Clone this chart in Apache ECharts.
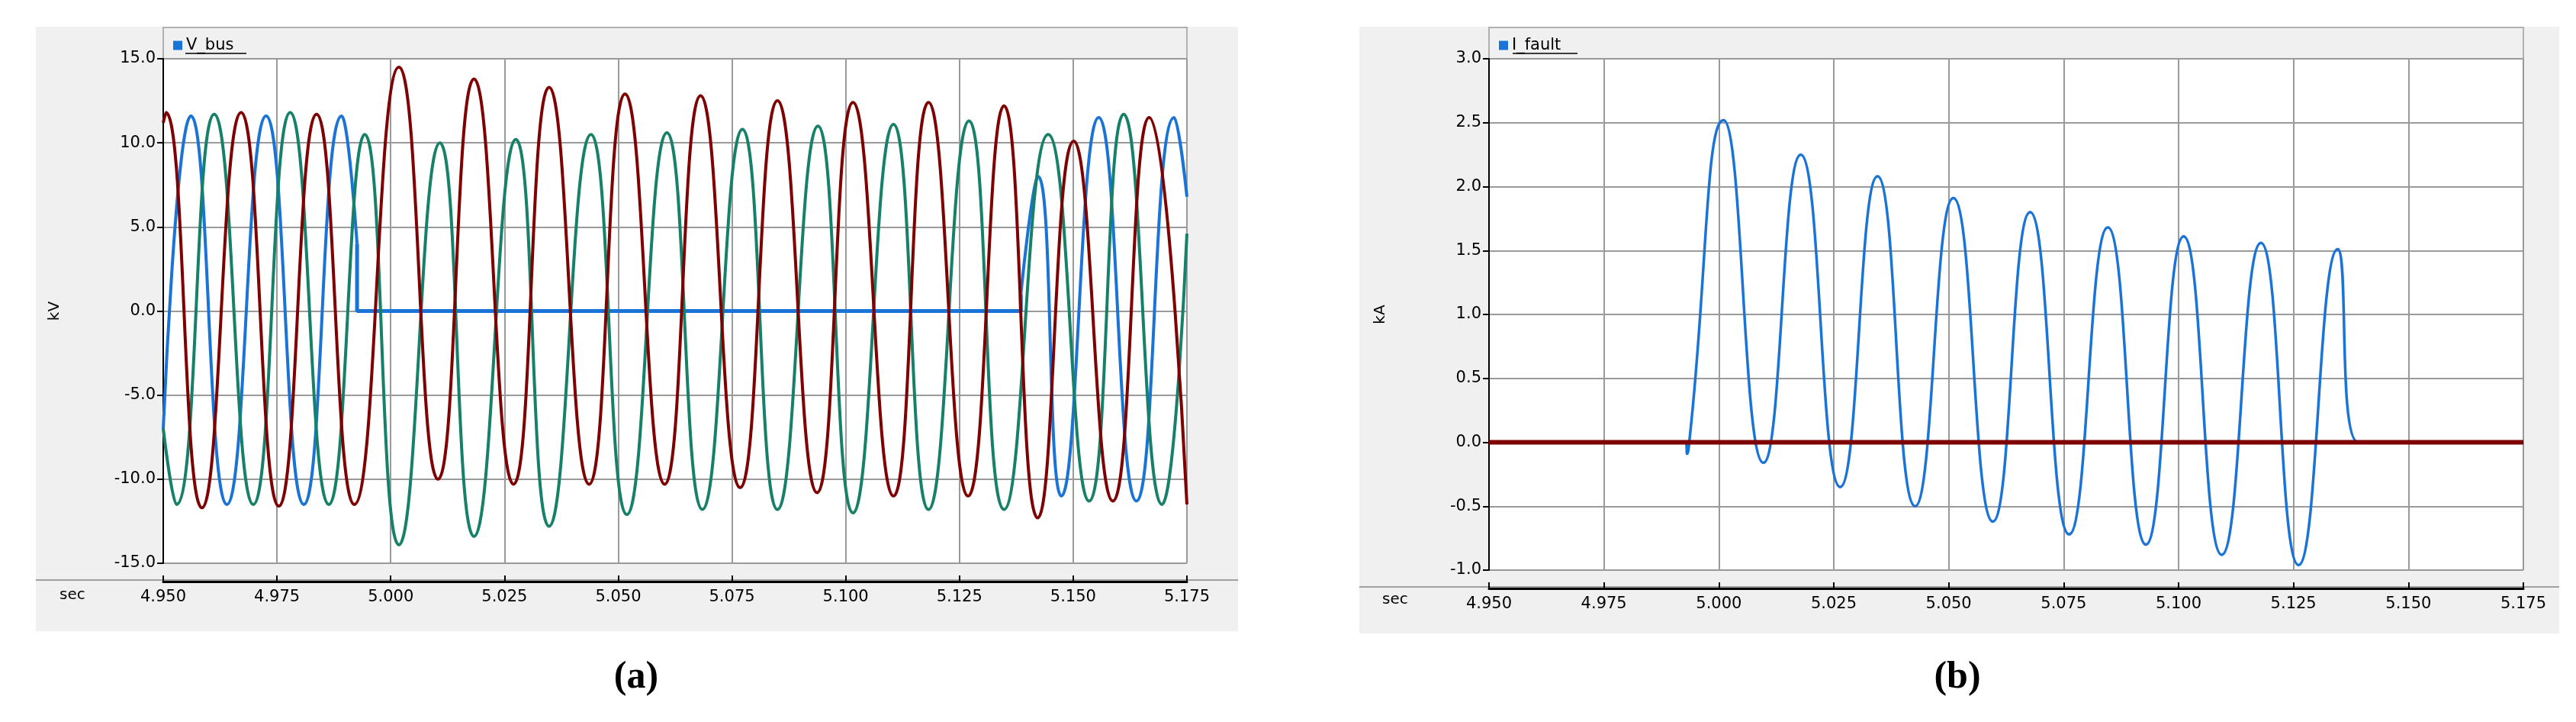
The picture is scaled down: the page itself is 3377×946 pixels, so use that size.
<!DOCTYPE html>
<html>
<head>
<meta charset="utf-8">
<script src="https://cdn.jsdelivr.net/npm/echarts@6/dist/echarts.min.js"></script>
<style>
  html, body { margin: 0; padding: 0; background: #fff; }
  #main { width: 3377px; height: 946px; }
</style>
</head>
<body>
<div id="main"></div>
<script>
// time ticks (sec)
const xTicks = [4.950, 4.975, 5.000, 5.025, 5.050, 5.075, 5.100, 5.125, 5.150, 5.175];

// (a) V_bus, three phases, [t, kV] read at peaks / troughs
const vRed = [
  [4.9500, 11.2], [4.9506, 11.8], [4.9585, -11.7], [4.9671, 11.8], [4.9754, -11.6],
  [4.9837, 11.7], [4.9920, -11.5], [5.0018, 14.5], [5.0104, -10.0], [5.0183, 13.8],
  [5.0270, -10.3], [5.0348, 13.3], [5.0436, -10.3], [5.0515, 12.9], [5.0602, -10.3],
  [5.0681, 12.8], [5.0768, -10.5], [5.0850, 12.5], [5.0937, -10.8], [5.1016, 12.4],
  [5.1105, -11.0], [5.1182, 12.4], [5.1269, -11.0], [5.1348, 12.2], [5.1422, -12.3],
  [5.1501, 10.1], [5.1587, -11.3], [5.1667, 11.5], [5.1750, -11.5]
];
const vGreen = [
  [4.9500, -7.0], [4.9529, -11.5], [4.9612, 11.7], [4.9698, -11.5], [4.9779, 11.8],
  [4.9864, -11.5], [4.9943, 10.5], [5.0018, -13.9], [5.0108, 10.0], [5.0183, -13.4],
  [5.0275, 10.2], [5.0348, -12.8], [5.0440, 10.5], [5.0519, -12.1], [5.0607, 10.6],
  [5.0685, -11.8], [5.0773, 10.8], [5.0850, -11.8], [5.0939, 11.0], [5.1016, -12.0],
  [5.1105, 11.1], [5.1182, -11.8], [5.1271, 11.3], [5.1348, -11.8], [5.1445, 10.5],
  [5.1535, -11.3], [5.1611, 11.7], [5.1695, -11.5], [5.1750, 4.6]
];
const vBluePre = [
  [4.9500, -7.0], [4.9561, 11.6], [4.9640, -11.5], [4.9726, 11.6], [4.9809, -11.5],
  [4.9892, 11.6], [4.9926, 4.0]
];
const vBlueFault = [[4.9926, 4.0], [4.9926, 0], [5.1385, 0], [5.1385, 1.0]];
const vBluePost = [
  [5.1385, 1.0], [5.1423, 8.0], [5.1474, -11.0], [5.1556, 11.5], [5.1639, -11.3],
  [5.1722, 11.5], [5.1750, 6.8]
];

// (b) I_fault, [t, kA]
const iBlue = [
  [4.9500, 0], [4.9928, 0], [4.9931, -0.09], [4.9937, 0.05], [5.0010, 2.52], [5.0097, -0.16],
  [5.0178, 2.25], [5.0264, -0.35], [5.0345, 2.08], [5.0427, -0.50], [5.0510, 1.91],
  [5.0596, -0.62], [5.0677, 1.80], [5.0762, -0.72], [5.0846, 1.68], [5.0929, -0.80],
  [5.1011, 1.61], [5.1094, -0.88], [5.1179, 1.56], [5.1261, -0.96], [5.1346, 1.51],
  [5.1391, 0], [5.1750, 0]
];
const iFlat = [[4.9500, 0], [5.1750, 0]];

const BLUE = '#1a73d6', GREEN = '#178068', RED = '#7f0000';
const FONT = 'DejaVu Sans';

const chart = echarts.init(document.getElementById('main'));

function xAxisCfg(gi) {
  return {
    type: 'value', gridIndex: gi, min: 4.95, max: 5.175, interval: 0.025,
    offset: 24,
    axisLine: { show: true, onZero: false, lineStyle: { color: '#000', width: 3 } },
    axisTick: { show: true, inside: true, length: 8, lineStyle: { color: '#000', width: 2 } },
    axisLabel: { color: '#000', fontFamily: FONT, fontSize: 21, margin: 10,
      formatter: v => v.toFixed(3) },
    splitLine: { show: true, lineStyle: { color: '#9a9a9a', width: 2 } }
  };
}
function yAxisCfg(gi, min, max, step, name) {
  return {
    type: 'value', gridIndex: gi, min: min, max: max, interval: step,
    name: name, nameLocation: 'middle', nameGap: 132, nameRotate: 90,
    nameTextStyle: { color: '#000', fontFamily: FONT, fontSize: 20 },
    axisLine: { show: true, lineStyle: { color: '#000', width: 2 } },
    axisTick: { show: true, length: 8, lineStyle: { color: '#000', width: 2 } },
    axisLabel: { color: '#000', fontFamily: FONT, fontSize: 21, margin: 10,
      formatter: v => v.toFixed(1) },
    splitLine: { show: true, lineStyle: { color: '#9a9a9a', width: 2 } }
  };
}
function line(name, data, color, width, xi, smooth) {
  return {
    name: name, type: 'line', xAxisIndex: xi, yAxisIndex: xi, data: data,
    showSymbol: false, smooth: smooth === undefined ? 0.5 : smooth,
    lineStyle: { color: color, width: width }, itemStyle: { color: color },
    animation: false
  };
}

chart.setOption({
  backgroundColor: '#fff',
  graphic: [
    // panel backgrounds
    { type: 'rect', z: -10, shape: { x: 47, y: 35, width: 1576, height: 792 }, style: { fill: '#f0f0f0' } },
    { type: 'rect', z: -10, shape: { x: 1782, y: 35, width: 1573, height: 795 }, style: { fill: '#f0f0f0' } },
    // legend strips
    { type: 'rect', z: -9, shape: { x: 214, y: 36, width: 1342, height: 41 }, style: { fill: '#f0f0f0', stroke: '#b0b0b0', lineWidth: 2 } },
    { type: 'rect', z: -9, shape: { x: 1952, y: 36, width: 1356, height: 41 }, style: { fill: '#f0f0f0', stroke: '#b0b0b0', lineWidth: 2 } },
    // separator lines above axis band
    { type: 'line', shape: { x1: 47, y1: 760, x2: 1623, y2: 760 }, style: { stroke: '#a0a0a0', lineWidth: 2 } },
    { type: 'line', shape: { x1: 1782, y1: 769, x2: 3355, y2: 769 }, style: { stroke: '#a0a0a0', lineWidth: 2 } },
    // underlines of legend names
    { type: 'line', shape: { x1: 243, y1: 70, x2: 323, y2: 70 }, style: { stroke: '#000', lineWidth: 1.5 } },
    { type: 'line', shape: { x1: 1983, y1: 70, x2: 2068, y2: 70 }, style: { stroke: '#000', lineWidth: 1.5 } },
    // "sec" labels
    { type: 'text', x: 78, y: 770, style: { text: 'sec', font: '20px "DejaVu Sans"', fill: '#000' } },
    { type: 'text', x: 1812, y: 776, style: { text: 'sec', font: '20px "DejaVu Sans"', fill: '#000' } },
    // captions
    { type: 'text', x: 834, y: 888, style: { text: '(a)', font: 'bold 50px "Liberation Serif"', fill: '#000', align: 'center', verticalAlign: 'middle' } },
    { type: 'text', x: 2566, y: 888, style: { text: '(b)', font: 'bold 50px "Liberation Serif"', fill: '#000', align: 'center', verticalAlign: 'middle' } }
  ],
  legend: [
    { data: ['V_bus'], left: 222, top: 44, itemWidth: 12, itemHeight: 12, icon: 'rect', itemGap: 6,
      textStyle: { fontFamily: FONT, fontSize: 21, color: '#000' } },
    { data: ['I_fault'], left: 1960, top: 44, itemWidth: 12, itemHeight: 12, icon: 'rect', itemGap: 6,
      textStyle: { fontFamily: FONT, fontSize: 21, color: '#000' } }
  ],
  grid: [
    { left: 214, top: 77, width: 1342, height: 661, show: true, backgroundColor: '#fff', borderColor: '#b0b0b0', borderWidth: 0 },
    { left: 1952, top: 77, width: 1356, height: 670, show: true, backgroundColor: '#fff', borderColor: '#b0b0b0', borderWidth: 0 }
  ],
  xAxis: [xAxisCfg(0), xAxisCfg(1)],
  yAxis: [yAxisCfg(0, -15, 15, 5, 'kV'), yAxisCfg(1, -1, 3, 0.5, 'kA')],
  series: [
    line('V_bus', vBluePre, BLUE, 4, 0),
    line('V_bus_f', vBlueFault, BLUE, 5, 0, false),
    line('V_bus_p', vBluePost, BLUE, 4, 0),
    line('V_bus_g', vGreen, GREEN, 4, 0),
    line('V_bus_r', vRed, RED, 4, 0),
    line('I_fault_g', iFlat, GREEN, 3, 1, false),
    line('I_fault', iBlue, BLUE, 3.5, 1),
    line('I_fault_r', iFlat, RED, 6, 1, false)
  ]
});
</script>
</body>
</html>
